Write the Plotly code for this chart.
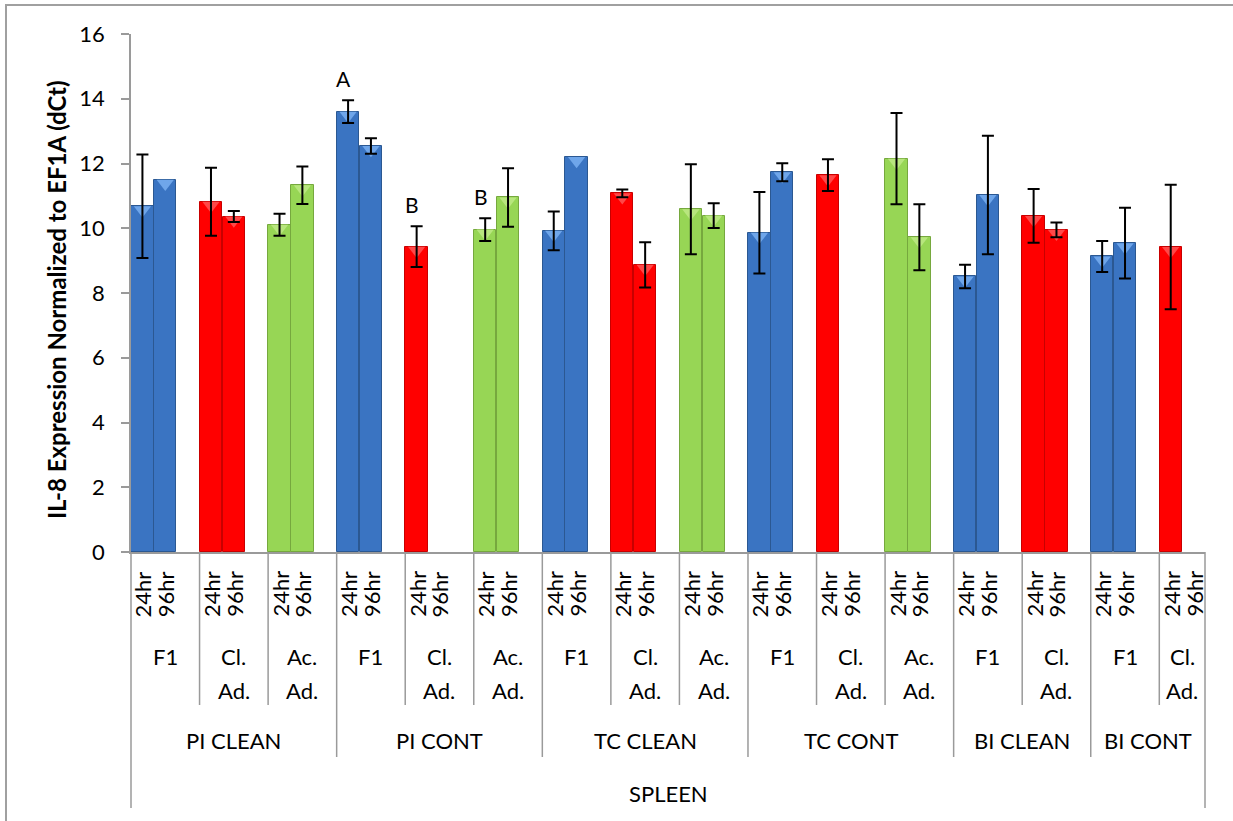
import plotly.graph_objects as go

# ---------------- data ----------------
organ = "SPLEEN"
conditions = ["PI CLEAN", "PI CONT", "TC CLEAN", "TC CONT", "BI CLEAN", "BI CONT"]
treatments_per_condition = [
    ["F1", "Cl. Ad.", "Ac. Ad."],
    ["F1", "Cl. Ad.", "Ac. Ad."],
    ["F1", "Cl. Ad.", "Ac. Ad."],
    ["F1", "Cl. Ad.", "Ac. Ad."],
    ["F1", "Cl. Ad."],
    ["F1", "Cl. Ad."],
]
times = ["24hr", "96hr"]

# one value per treatment group (16 groups, in order)
vals_24hr = [10.68, 10.82, 10.11, 13.60, 9.43, 9.96, 9.92, 11.08, 10.59,
             9.86, 11.64, 12.15, 8.51, 10.38, 9.13, 9.42]
vals_96hr = [11.50, 10.36, 11.33, 12.54, None, 10.95, 12.20, 8.87, 10.39,
             11.73, None, 9.72, 11.03, 9.95, 9.54, None]
err_24hr = [1.60, 1.05, 0.34, 0.35, 0.63, 0.35, 0.60, 0.12, 1.39,
            1.26, 0.49, 1.41, 0.36, 0.83, 0.48, 1.92]
err_96hr = [None, 0.17, 0.58, 0.24, None, 0.90, None, 0.70, 0.38,
            0.28, None, 1.02, 1.83, 0.23, 1.09, None]
letters_24hr = ["", "", "", "A", "B", "B", "", "", "",
                "", "", "", "", "", "", ""]

y_title = "IL-8 Expression Normalized to EF1A (dCt)"
y_ticks = [0, 2, 4, 6, 8, 10, 12, 14, 16]

# ---------------- styling ----------------
W, H = 1233, 821
PX_L, PX_R, PX_T, PX_B = 131, 1205, 34, 552
FONT = "Lato"
fill = {"F1": "#3A74C2", "Cl. Ad.": "#FF0000", "Ac. Ad.": "#97D655"}
edge = {"F1": "#2B5892", "Cl. Ad.": "#C80000", "Ac. Ad.": "#76A83E"}
bevel = {"F1": "#6FA6EA", "Cl. Ad.": "#FF4848", "Ac. Ad.": "#B8E67E"}
GRAY = "#9A9A9A"

# ---------------- layout of categories ----------------
groups = []  # (condition index, treatment)
for ci, trs in enumerate(treatments_per_condition):
    for t in trs:
        groups.append((ci, t))
n_groups = len(groups)
n_slots = 3 * n_groups - 1          # two bars + blank slot per group (no blank after last)
x_lo, x_hi = -0.5, n_slots - 0.5
y_lo, y_hi = y_ticks[0], y_ticks[-1]
px_per_unit = (PX_B - PX_T) / (y_hi - y_lo)


def xp(slot):
    return (slot - x_lo) / (x_hi - x_lo)


def yp(py):
    return (PX_B - py) / (PX_B - PX_T)


fig = go.Figure()

# bars, one trace per treatment colour
for tr in ["F1", "Cl. Ad.", "Ac. Ad."]:
    xs, ys = [], []
    for g, (ci, t) in enumerate(groups):
        if t != tr:
            continue
        for k, v in enumerate([vals_24hr[g], vals_96hr[g]]):
            if v is not None:
                xs.append(3 * g + k)
                ys.append(v)
    fig.add_trace(go.Bar(
        x=xs, y=ys, width=0.98,
        marker=dict(color=fill[tr], line=dict(color=edge[tr], width=1)),
        showlegend=False, hoverinfo="skip"))
    # bevel highlight at the top of each bar
    off = 15 / 4 / px_per_unit
    fig.add_trace(go.Scatter(
        x=xs, y=[v - off for v in ys], mode="markers",
        marker=dict(symbol="triangle-down", size=15, color=bevel[tr],
                    line=dict(width=0)),
        showlegend=False, hoverinfo="skip"))

# error bars
ex, ey, ee = [], [], []
for g in range(n_groups):
    for k, (v, e) in enumerate([(vals_24hr[g], err_24hr[g]), (vals_96hr[g], err_96hr[g])]):
        if v is not None and e is not None:
            ex.append(3 * g + k)
            ey.append(v)
            ee.append(e)
fig.add_trace(go.Scatter(
    x=ex, y=ey, mode="markers",
    marker=dict(size=1, color="rgba(0,0,0,0)"),
    error_y=dict(type="data", array=ee, symmetric=True, color="black",
                 thickness=2, width=6),
    showlegend=False, hoverinfo="skip"))

ann = []
shapes = []

# significance letters
for g in range(n_groups):
    if letters_24hr[g]:
        ann.append(dict(x=3 * g - 0.2, y=vals_24hr[g] + err_24hr[g], xref="x", yref="y",
                        text=letters_24hr[g], showarrow=False, yanchor="middle",
                        xanchor="center", yshift=22,
                        font=dict(family=FONT, size=21, color="black")))

# time labels
for g in range(n_groups):
    for k, t in enumerate(times):
        ann.append(dict(x=3 * g + k, y=yp(594), xref="x", yref="paper",
                        text=t, textangle=-90, showarrow=False,
                        xanchor="center", yanchor="middle",
                        font=dict(family=FONT, size=22, color="black")))

# treatment labels
for g, (ci, t) in enumerate(groups):
    center = 3 * g + (1 if g < n_groups - 1 else 0.5)
    parts = t.split(" ")
    for li, part in enumerate(parts):
        ann.append(dict(x=center, y=yp(656 + 34 * li), xref="x", yref="paper",
                        text=part, showarrow=False, xanchor="center", yanchor="middle",
                        font=dict(family=FONT, size=22, color="black")))

# condition labels
start = 0
cond_bounds = []
for ci, trs in enumerate(treatments_per_condition):
    g0 = start
    g1 = start + len(trs) - 1
    left = 3 * g0 - 0.5
    right = 3 * g1 + 2.5 if g1 < n_groups - 1 else x_hi
    cond_bounds.append(left)
    ann.append(dict(x=(left + right) / 2, y=yp(740), xref="x", yref="paper",
                    text=conditions[ci], showarrow=False, xanchor="center", yanchor="middle",
                    font=dict(family=FONT, size=22, color="black")))
    start += len(trs)

# organ label
ann.append(dict(x=(x_lo + x_hi) / 2, y=yp(793), xref="x", yref="paper",
                text=organ, showarrow=False, xanchor="center", yanchor="middle",
                font=dict(family=FONT, size=22, color="black")))

# y-axis title
ann.append(dict(x=(56 - PX_L) / (PX_R - PX_L), y=yp(300), xref="paper", yref="paper",
                text="<b>" + y_title + "</b>", textangle=-90, showarrow=False,
                xanchor="center", yanchor="middle",
                font=dict(family=FONT, size=24, color="black")))

# divider lines in the category area
for g in range(1, n_groups):
    xb = 3 * g - 0.5
    bottom = 757 if xb in cond_bounds else 705
    shapes.append(dict(type="line", xref="paper", yref="paper",
                       x0=xp(xb), x1=xp(xb), y0=0, y1=yp(bottom),
                       line=dict(color=GRAY, width=1.5)))
for xb in (x_lo, x_hi):
    shapes.append(dict(type="line", xref="paper", yref="paper",
                       x0=xp(xb), x1=xp(xb), y0=0, y1=yp(808),
                       line=dict(color=GRAY, width=1.5)))

# outer chart border
shapes.append(dict(type="rect", xref="paper", yref="paper",
                   x0=(6 - PX_L) / (PX_R - PX_L), x1=(1245 - PX_L) / (PX_R - PX_L),
                   y0=yp(835), y1=yp(5),
                   line=dict(color="#A0A0A0", width=2), fillcolor="rgba(0,0,0,0)"))

fig.update_layout(
    width=W, height=H,
    margin=dict(l=PX_L, r=W - PX_R, t=PX_T, b=H - PX_B),
    paper_bgcolor="white", plot_bgcolor="white",
    bargap=0, barmode="overlay",
    annotations=ann, shapes=shapes,
    font=dict(family=FONT, size=22, color="black"),
    xaxis=dict(range=[x_lo, x_hi], showticklabels=False, ticks="",
               showgrid=False, zeroline=False, showline=True,
               linecolor=GRAY, linewidth=1.5),
    yaxis=dict(range=[y_lo, y_hi], tickvals=y_ticks, ticks="outside",
               ticklen=8, tickwidth=1.5, tickcolor=GRAY,
               showgrid=False, zeroline=False, showline=True,
               linecolor=GRAY, linewidth=1.5, ticklabelstandoff=12,
               tickfont=dict(family=FONT, size=22, color="black")),
)

fig.write_html("out.html",
               config={"displayModeBar": False},
               post_script="document.body.style.margin='0px';"
                           "document.body.style.overflow='hidden';")
